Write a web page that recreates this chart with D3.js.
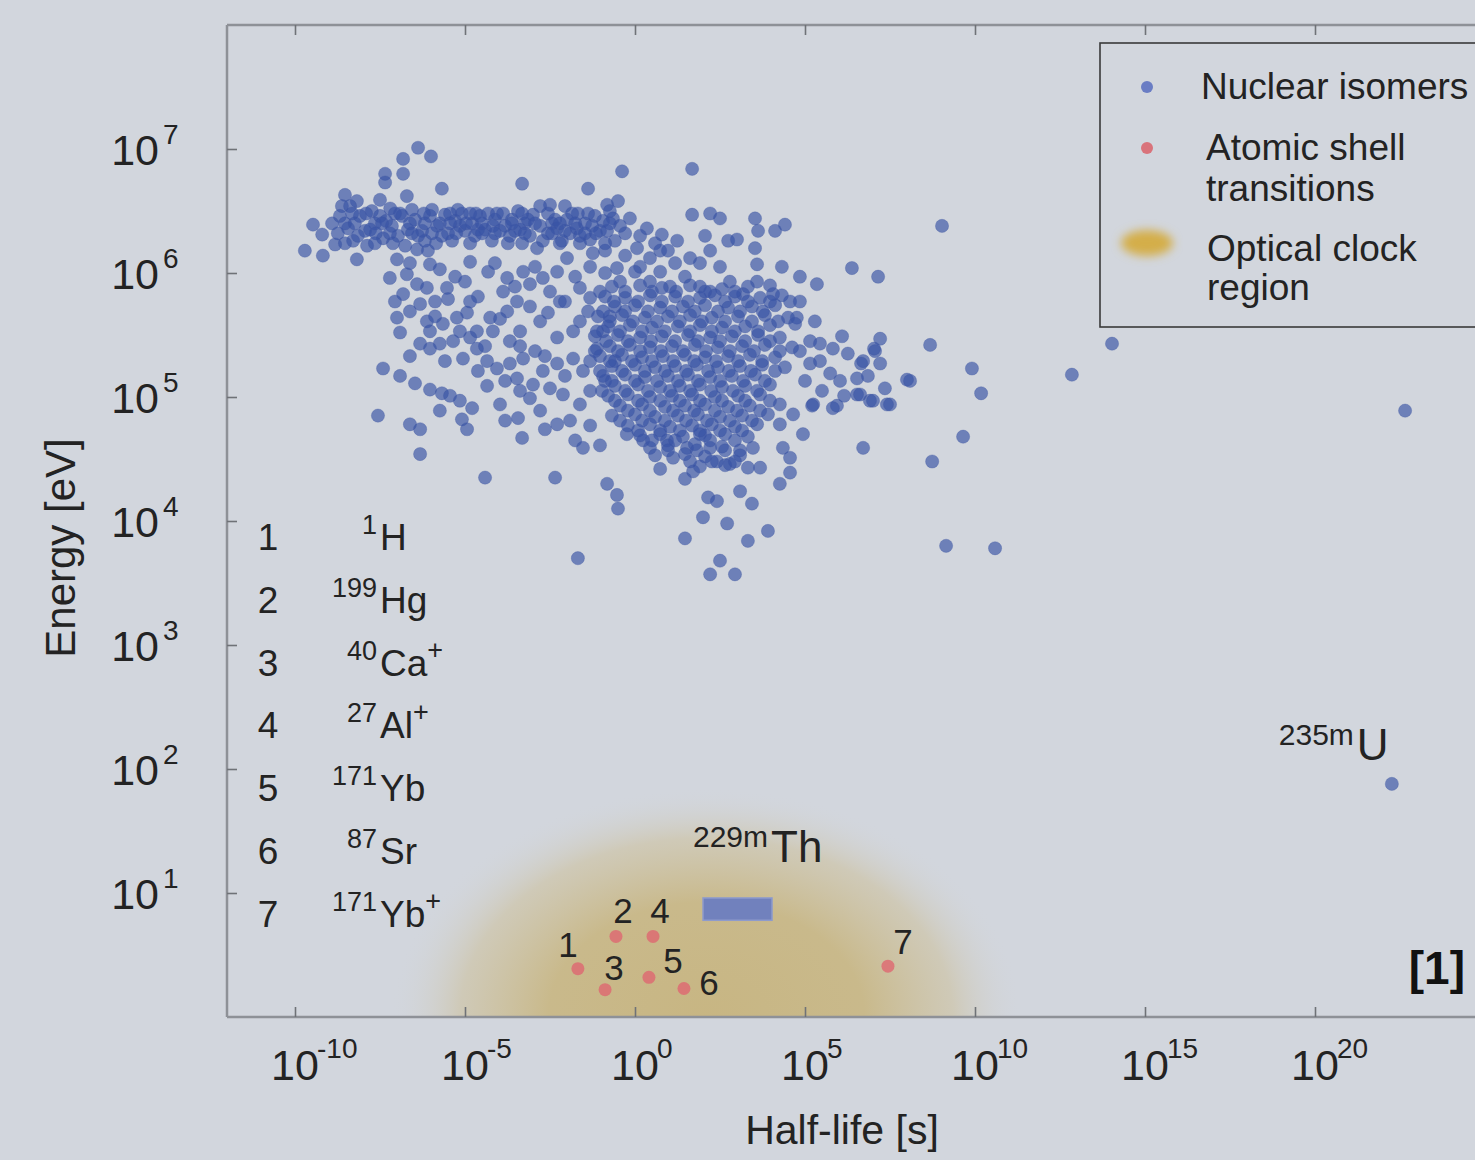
<!DOCTYPE html>
<html><head><meta charset="utf-8">
<script src="https://cdn.jsdelivr.net/npm/d3@7"></script>
<style>
body{margin:0;background:#d2d6dd;}
svg{display:block;font-family:"Liberation Sans",Arial,sans-serif;}
</style></head><body>
<svg id="chart" width="1475" height="1160"></svg>
<script>
// ---------- DATA (log10 exponents: [half-life s, energy eV]) ----------
const xTickExps = [-10, -5, 0, 5, 10, 15, 20, 25];
const xLabelExps = [-10, -5, 0, 5, 10, 15, 20];
const yTickExps = [1, 2, 3, 4, 5, 6, 7];

const isomersTop = [[-6.38,7.01],[-6.82,6.92],[-6.0,6.94],[-7.35,6.8],[-6.82,6.8],[-7.35,6.73],[-5.68,6.68],[-8.53,6.63],[-6.71,6.62],[-3.32,6.72],[-1.38,6.68],[-0.38,6.82],[1.68,6.84],[-7.5,6.59],[-8.18,6.58],[-8.62,6.54],[-0.82,6.55],[-0.5,6.58],[-2.5,6.55],[1.68,6.47],[2.21,6.48],[2.5,6.44],[3.53,6.44],[4.41,6.39],[4.12,6.34],[3.62,6.34],[9.03,6.38]];

const isomersBand = [[-9.47,6.39],[-9.2,6.31],[-9.71,6.18],[-9.18,6.14],[-8.82,6.23],[-8.68,6.46],[-8.44,6.36],[-8.29,6.26],[-8.18,6.11],[-8.09,6.46],[-7.88,6.22],[-7.74,6.5],[-7.65,6.4],[-7.41,6.28],[-7.2,6.52],[-7.15,6.38],[-7.0,6.11],[-6.85,6.46],[-6.76,6.22],[-6.68,6.35],[-6.47,6.43],[-6.41,6.19],[-6.26,6.34],[-6.09,6.18],[-6.03,6.46],[-6.03,6.07],[-5.82,6.38],[-5.59,6.47],[-5.5,6.32],[-5.29,6.42],[-5.09,6.48],[-5.0,6.34],[-4.79,6.4],[-4.56,6.46],[-4.41,6.35],[-4.21,6.26],[-4.12,6.43],[-3.82,6.38],[-3.68,6.3],[-3.44,6.5],[-3.38,6.35],[-3.09,6.3],[-3.0,6.47],[-2.88,6.2],[-2.79,6.38],[-2.71,6.26],[-2.35,6.43],[-2.29,6.36],[-2.0,6.43],[-1.91,6.32],[-1.71,6.36],[-1.47,6.4],[-1.24,6.16],[-1.18,6.46],[-1.03,6.34],[-0.82,6.34],[-0.65,6.44],[-0.44,6.38],[-0.15,6.44],[0.06,6.2],[0.35,6.36],[0.44,6.12],[0.79,6.31],[1.24,6.26],[1.62,6.12],[2.06,6.3],[2.74,6.26],[3.0,6.27],[3.53,6.2],
[-8.38,6.54],[-7.94,6.34],[-7.5,6.46],[-6.97,6.3],[-6.56,6.51],[-6.18,6.26],[-5.74,6.4],[-5.38,6.26],[-5.21,6.51],[-4.71,6.3],[-4.32,6.48],[-3.97,6.34],[-3.62,6.43],[-3.24,6.4],[-2.56,6.32],[-2.15,6.26],[-1.68,6.48],[-1.32,6.27],[-0.94,6.42],[-0.59,6.26],[-0.29,6.32],[0.15,6.3],[0.59,6.24],[0.97,6.18],
[-8.53,6.4],[-8.15,6.3],[-7.79,6.35],[-7.32,6.42],[-7.06,6.48],[-6.38,6.3],[-5.97,6.51],[-5.68,6.3],[-5.15,6.38],[-4.85,6.48],[-4.62,6.35],[-4.18,6.38],[-3.88,6.48],[-3.53,6.34],[-3.15,6.43],[-2.44,6.4],[-2.06,6.34],[-1.62,6.3],[-1.26,6.38],[-0.74,6.5],[-2.06,6.54],[-2.79,6.54],
[-0.88,6.18],[-0.29,6.14],[0.74,6.18],[1.18,6.08],[1.91,6.08],[2.21,6.18],[0.15,6.05],[-0.88,6.0],
[-8.32,6.48],[-7.91,6.48],[-6.91,6.48],[-6.21,6.48],[-5.44,6.48],[-4.68,6.48],[-4.06,6.48],[-3.32,6.48],[-2.56,6.48],[-1.85,6.48],[-1.38,6.48],
[-8.91,6.4],[-8.24,6.4],[-7.44,6.4],[-6.62,6.4],[-6.18,6.4],[-5.44,6.4],[-4.97,6.4],[-4.5,6.4],[-3.62,6.4],[-2.94,6.4],[-2.21,6.4],[-1.76,6.4],[-0.74,6.4],
[-8.74,6.32],[-7.62,6.32],[-7.21,6.32],[-6.56,6.32],[-5.97,6.32],[-5.26,6.32],[-4.5,6.32],[-4.12,6.32],[-3.24,6.32],[-2.44,6.32],[-1.47,6.32],[-1.15,6.32],
[-8.53,6.24],[-7.65,6.24],[-7.12,6.24],[-5.85,6.24],[-4.85,6.24],[-3.74,6.24],[-3.32,6.24],[-2.21,6.24],[-1.62,6.24],[-0.88,6.24]];

const isomersMid = [[-7.21,5.96],[-6.71,5.99],[-6.41,5.91],[-6.12,5.88],[-5.53,5.88],[-5.5,5.79],[-6.82,5.83],[-6.32,5.75],[-4.62,5.81],[-4.32,6.01],[-3.88,5.85],[-3.76,5.96],[-3.47,5.77],[-3.76,5.69],[-3.29,6.01],[-3.09,5.91],[-2.71,5.96],[-2.29,6.01],[-2.0,6.12],[-1.62,5.88],[-1.32,5.8],[-1.03,5.85],[-0.53,6.04],[-0.44,5.93],[0,6.01],[0.44,5.93],[0.74,6.01],[1.03,5.89],[1.47,5.97],[1.91,5.89],[3.59,6.07],[4.32,6.05],[4.85,5.97],[5.35,5.91],[6.38,6.04],[7.15,5.97],[3.59,5.93],[3.18,5.83],[4.06,5.83],[4.56,5.77],[2.5,6.05],[2.21,5.85],[2.79,5.93],[-2.21,5.77],[-4.85,6.09],[-5.29,5.97],[-5.88,5.77],[-7.06,5.77],
[-7.0,5.64],[-6.12,5.61],[-5.65,5.59],[-5.24,5.64],[-4.94,5.68],[-6.91,5.52],[-6.32,5.43],[-6.03,5.39],[-5.74,5.43],[-5.35,5.45],[-5.06,5.31],[-4.65,5.39],[-4.18,5.53],[-4.35,5.29],[-4.06,5.23],[-3.68,5.27],[-3.29,5.31],[-3.47,5.15],[-3.0,5.1],[-2.71,5.21],[-2.29,5.27],[-1.82,5.31],[-1.53,5.21],[-1.12,5.39],[-0.94,5.53],[-1.82,5.53],[-2.29,5.48],[-1.62,5.61],[-4.65,5.53],[-4.26,5.64],[-4.85,5.48],[-7.41,5.23],[-6.47,5.11],[-6.03,5.06],[-5.68,5.03],[-5.44,5.01],[-5.15,4.97],[-4.79,4.91],[-4.35,5.09],[-3.97,4.94],[-3.38,5.05],[-3.09,4.99],[-2.5,5.07],[-2.12,5.02],[-1.62,4.94],[-1.32,5.05],[-3.38,5.53],[-2.79,5.61],[-3.68,5.45],[-2.94,5.37],[-0.74,5.65],[-0.59,5.29],[-0.88,5.13],
[-6.62,6.08],[-5.74,6.03],[-5.0,5.93],[-4.12,6.08],[-3.53,5.89],[-2.94,6.05],[-2.5,5.85],[-1.76,5.97],[-1.32,6.05],[-6.62,5.69],[-5.88,5.65],[-4.85,5.77],[-3.97,5.63],[-3.09,5.73],[-2.56,5.68],[-2.06,5.77],[-1.38,5.69],[-6.62,5.33],[-5.59,5.29],[-4.62,5.21],[-3.82,5.13],[-2.65,5.33],[-2.06,5.17],[-1.32,5.29],[-3.38,5.41],[-4.41,5.41],[-5.15,5.53],[-6.03,5.53],[-6.91,5.17],[-5.74,4.89],[-3.82,4.81],[-2.79,4.89],[-1.91,4.81],[-1.32,4.77],[-1.76,4.65]];

const isomersLow = [[-7.56,4.85],[-6.62,4.78],[-6.32,4.74],[-6.32,4.54],[-5.09,4.82],[-4.94,4.74],[-4.41,4.35],[-3.44,4.83],[-3.32,4.67],[-2.65,4.74],[-2.29,4.78],[-1.53,4.59],[-1.03,4.61],[-2.35,4.35],[-0.82,4.3],[-0.53,4.21],[-0.5,4.1],[-1.68,3.7],[-0.24,4.7],[0.24,4.65],
[0.74,4.42],[1.47,4.34],[1.71,4.4],[2.0,4.03],[2.15,4.19],[2.41,4.16],[2.71,3.98],[3.09,4.24],[3.44,4.14],[3.91,3.92],[3.32,3.84],[1.47,3.86],[2.5,3.68],[2.21,3.57],[2.94,3.57],[4.26,4.3],[4.56,4.39],[0.44,4.59],[0.94,4.65],[1.12,4.51],[1.53,4.59],[1.91,4.7],[2.21,4.59],[2.41,4.48],[2.79,4.46],[3.09,4.57],[3.47,4.59],[3.68,4.43],[3.59,4.78],[4.26,4.78],[4.65,4.86],[4.35,4.59],[4.56,4.51],[4.94,4.7],[4.26,4.94]];

const isomersCore = [
[-0.68,5.89],[0.15,5.9],[0.79,5.88],[1.62,5.9],[2.56,5.87],[3.32,5.89],[3.97,5.9],
[-0.88,5.81],[-0.29,5.8],[0.44,5.82],[1.18,5.81],[1.91,5.8],[2.35,5.82],[2.94,5.81],[3.68,5.8],[4.32,5.82],
[-0.59,5.73],[0,5.74],[0.74,5.72],[1.41,5.73],[2.06,5.74],[2.74,5.72],[3.44,5.73],[4.12,5.74],
[-1.09,5.65],[-0.38,5.66],[0.29,5.64],[0.97,5.65],[1.62,5.66],[2.26,5.64],[3.03,5.65],[3.82,5.66],[4.5,5.64],
[-0.79,5.57],[-0.15,5.58],[0.5,5.56],[1.26,5.57],[1.91,5.58],[2.56,5.56],[3.24,5.57],[3.97,5.58],
[-1.18,5.49],[-0.5,5.5],[0.15,5.48],[0.79,5.49],[1.56,5.5],[2.21,5.48],[2.85,5.49],[3.62,5.5],[4.26,5.48],
[-0.74,5.41],[-0.15,5.42],[0.44,5.4],[1.09,5.41],[1.76,5.42],[2.44,5.4],[3.15,5.41],[3.82,5.42],[4.62,5.4],
[-1.03,5.33],[-0.38,5.34],[0.21,5.32],[0.82,5.33],[1.47,5.34],[2.06,5.32],[2.74,5.33],[3.38,5.34],[4.12,5.32],
[-0.68,5.25],[0,5.26],[0.59,5.24],[1.18,5.25],[1.82,5.26],[2.44,5.24],[3.09,5.25],[3.74,5.26],[4.41,5.24],
[-0.94,5.17],[-0.29,5.18],[0.29,5.16],[0.97,5.17],[1.56,5.18],[2.21,5.16],[2.85,5.17],[3.53,5.18],
[-0.59,5.09],[0.09,5.1],[0.74,5.08],[1.32,5.09],[1.91,5.1],[2.56,5.08],[3.24,5.09],[3.97,5.1],
[-0.79,5.01],[-0.21,5.02],[0.44,5.0],[1.09,5.01],[1.68,5.02],[2.35,5.0],[3.03,5.01],[3.68,5.02],
[-0.44,4.93],[0.21,4.94],[0.88,4.92],[1.47,4.93],[2.06,4.94],[2.74,4.92],[3.38,4.93],
[-0.68,4.85],[0,4.86],[0.59,4.84],[1.26,4.85],[1.85,4.86],[2.5,4.84],[3.15,4.85],[3.91,4.86],
[-0.21,4.77],[0.44,4.78],[1.03,4.76],[1.68,4.77],[2.26,4.78],[2.94,4.76],
[0.15,4.69],[0.74,4.7],[1.41,4.68],[2.06,4.69],[2.65,4.7],[3.32,4.68],
[0.97,4.61],[1.76,4.62],[2.56,4.6],
[0.59,4.53],[1.47,4.54],[2.06,4.52],[3.09,4.53],
[1.91,4.44],[2.65,4.45],[3.32,4.43],
[-0.29,5.85],[0.5,5.85],[1.21,5.85],[2.06,5.85],[2.94,5.85],
[-0.62,5.77],[0.09,5.77],[0.79,5.77],[1.56,5.77],[2.65,5.77],[3.32,5.77],[3.97,5.77],
[-0.94,5.69],[-0.29,5.69],[0.38,5.69],[1.09,5.69],[1.76,5.69],[2.44,5.69],[3.09,5.69],[3.76,5.69],
[-0.74,5.61],[-0.06,5.61],[0.65,5.61],[1.32,5.61],[1.97,5.61],[2.65,5.61],[3.44,5.61],[4.21,5.61],
[-1.12,5.53],[-0.44,5.53],[0.21,5.53],[0.88,5.53],[1.62,5.53],[2.26,5.53],[2.94,5.53],[3.62,5.53],
[-0.85,5.45],[-0.21,5.45],[0.47,5.45],[1.18,5.45],[1.85,5.45],[2.5,5.45],[3.24,5.45],[3.97,5.45],
[-1.18,5.37],[-0.5,5.37],[0.15,5.37],[0.76,5.37],[1.41,5.37],[2.09,5.37],[2.79,5.37],[3.5,5.37],[4.26,5.37],
[-0.74,5.29],[-0.09,5.29],[0.5,5.29],[1.12,5.29],[1.74,5.29],[2.38,5.29],[3.03,5.29],[3.74,5.29],
[-1.03,5.21],[-0.38,5.21],[0.29,5.21],[0.88,5.21],[1.5,5.21],[2.15,5.21],[2.76,5.21],[3.41,5.21],[4.12,5.21],
[-0.68,5.13],[0,5.13],[0.65,5.13],[1.26,5.13],[1.85,5.13],[2.5,5.13],[3.18,5.13],[3.82,5.13],
[-0.97,5.05],[-0.29,5.05],[0.38,5.05],[1.03,5.05],[1.62,5.05],[2.24,5.05],[2.88,5.05],[3.59,5.05],
[-0.59,4.97],[0.09,4.97],[0.74,4.97],[1.32,4.97],[1.91,4.97],[2.56,4.97],[3.24,4.97],[3.97,4.97],
[-0.21,4.89],[0.44,4.89],[1.12,4.89],[1.74,4.89],[2.35,4.89],[3.0,4.89],[3.68,4.89],
[-0.44,4.81],[0.21,4.81],[0.88,4.81],[1.5,4.81],[2.12,4.81],[2.79,4.81],[3.44,4.81],
[0.09,4.73],[0.74,4.73],[1.32,4.73],[1.91,4.73],[2.5,4.73],[3.15,4.73],
[0.5,4.65],[1.18,4.65],[2.21,4.65],[2.94,4.65],
[0.97,4.57],[1.82,4.57],[2.65,4.57],
[1.62,4.48],[2.26,4.48],[2.94,4.48]];

const isomersRight = [[5.15,5.45],[5.44,5.43],[5.82,5.39],[6.09,5.49],[7.21,5.47],[7.06,5.37],[5.15,5.27],[5.74,5.19],[6.03,5.13],[6.71,5.29],[7.21,5.27],[6.91,4.97],[7.5,4.94],[5.24,4.94],[5.82,4.91],[8.0,5.14],[4.76,5.64],[4.71,5.59],[7.03,5.39],[6.65,5.27],[6.53,5.15],[6.53,5.02],[6.71,4.59],[5.21,4.93],[5.94,4.93],[7.35,5.07],[7.41,4.94],[8.09,5.13],[6.62,5.02],[7.0,4.97],
[4.85,5.37],[5.44,5.29],[6.26,5.35],[6.15,5.01],[5.5,5.05],[5.0,5.13],[6.85,5.17],[4.85,5.77],[5.29,5.61],
[8.68,5.42],[9.91,5.23],[10.18,5.03],[9.65,4.68],[8.74,4.48],[9.15,3.8],[10.59,3.78],[12.85,5.18],[14.03,5.43],[22.65,4.89]];

const uranium235m = [22.26, 1.88];

// atomic clock transitions: id, half-life exponent, energy exponent
const clockIds = [1, 2, 3, 4, 5, 6, 7];
const clockT = [-1.68, -0.56, -0.88, 0.53, 0.41, 1.44, 7.44];
const clockE = [0.39, 0.65, 0.22, 0.65, 0.32, 0.23, 0.41];
const clockSpecies = [["1","H",""],["199","Hg",""],["40","Ca","+"],["27","Al","+"],["171","Yb",""],["87","Sr",""],["171","Yb","+"]];

const thoriumBox = {t0: 2.0, t1: 4.03, e0: 0.78, e1: 0.96};
const opticalRegion = {tCenter: 2.1, tHalf: 9.3, eTop: 1.85};

// ---------- DRAWING ----------
const svg = d3.select("#chart");
const W = 1475, H = 1160;
const P = 10;
const x = d3.scaleLog().domain([1e-12, 1e25]).range([227, 1485]);
const y = d3.scaleLog().domain([1, 1e8]).range([1017, 25]);
const X = e => x(Math.pow(P, e));
const Y = e => y(Math.pow(P, e));

svg.append("rect").attr("width", W).attr("height", H).attr("fill", "#d2d6dd");

const defs = svg.append("defs");
const rg = defs.append("radialGradient").attr("id", "gold");
rg.append("stop").attr("offset", "0").attr("stop-color", "#c7b47e").attr("stop-opacity", 0.95);
rg.append("stop").attr("offset", "0.5").attr("stop-color", "#c8b682").attr("stop-opacity", 0.9);
rg.append("stop").attr("offset", "0.78").attr("stop-color", "#ccbd92").attr("stop-opacity", 0.5);
rg.append("stop").attr("offset", "1").attr("stop-color", "#d2d6dd").attr("stop-opacity", 0);
defs.append("clipPath").attr("id", "plotclip").append("rect")
  .attr("x", 227).attr("y", 25).attr("width", 1485 - 227).attr("height", 1017 - 25);
const blur = defs.append("filter").attr("id", "blur").attr("x", "-50%").attr("y", "-50%").attr("width", "200%").attr("height", "200%");
blur.append("feGaussianBlur").attr("stdDeviation", 5);

// optical clock region
const cx = X(opticalRegion.tCenter);
const rx = X(opticalRegion.tCenter + opticalRegion.tHalf) - cx;
const ry = Y(0) - Y(opticalRegion.eTop);
svg.append("g").attr("clip-path", "url(#plotclip)")
  .append("ellipse").attr("cx", cx).attr("cy", Y(0)).attr("rx", rx).attr("ry", ry)
  .attr("fill", "url(#gold)");

// frame
const frame = svg.append("g").attr("stroke", "#8e9197").attr("stroke-width", 2.5).attr("fill", "none");
frame.append("line").attr("x1", 227).attr("x2", 1485).attr("y1", 1017).attr("y2", 1017);
frame.append("line").attr("x1", 227).attr("x2", 1485).attr("y1", 25).attr("y2", 25);
frame.append("line").attr("x1", 227).attr("x2", 227).attr("y1", 25).attr("y2", 1017);
frame.append("line").attr("x1", 1485).attr("x2", 1485).attr("y1", 25).attr("y2", 1017);

// ticks via d3 axes
const xb = d3.axisBottom(x).tickValues(xTickExps.map(e => Math.pow(P, e))).tickSizeInner(-10).tickSizeOuter(0).tickFormat("");
const xt = d3.axisTop(x).tickValues(xTickExps.map(e => Math.pow(P, e))).tickSizeInner(-10).tickSizeOuter(0).tickFormat("");
const yl = d3.axisLeft(y).tickValues(yTickExps.map(e => Math.pow(P, e))).tickSizeInner(-10).tickSizeOuter(0).tickFormat("");
const yr = d3.axisRight(y).tickValues(yTickExps.map(e => Math.pow(P, e))).tickSizeInner(-10).tickSizeOuter(0).tickFormat("");
[[xb, "translate(0,1017)"], [xt, "translate(0,25)"], [yl, "translate(227,0)"], [yr, "translate(1485,0)"]].forEach(([ax, tr]) => {
  const g = svg.append("g").attr("transform", tr).call(ax);
  g.select(".domain").remove();
  g.selectAll(".tick line").attr("stroke", "#6f7277").attr("stroke-width", 1.6);
});

// tick labels
const txtColor = "#232323";
const xl = svg.append("g").attr("fill", txtColor);
xLabelExps.forEach(e => {
  const px = X(e);
  xl.append("text").attr("x", px).attr("y", 1080).attr("text-anchor", "middle").attr("font-size", 43).text("10");
  xl.append("text").attr("x", px + 22).attr("y", 1058).attr("font-size", 28).text(e);
});
const ylab = svg.append("g").attr("fill", txtColor);
yTickExps.forEach(e => {
  const py = Y(e);
  ylab.append("text").attr("x", 159).attr("y", py + 16).attr("text-anchor", "end").attr("font-size", 43).text("10");
  ylab.append("text").attr("x", 163).attr("y", py - 5).attr("font-size", 28).text(e);
});

// axis titles
svg.append("text").attr("transform", "translate(75,548) rotate(-90)").attr("text-anchor", "middle")
  .attr("font-size", 42).attr("fill", txtColor).text("Energy [eV]");
svg.append("text").attr("x", 842).attr("y", 1144).attr("text-anchor", "middle")
  .attr("font-size", 41).attr("fill", txtColor).text("Half-life [s]");

// isomers
const isomers = [].concat(isomersTop, isomersBand, isomersMid, isomersLow, isomersCore, isomersRight, [uranium235m]);
svg.append("g").selectAll("circle").data(isomers).join("circle")
  .attr("cx", d => X(d[0])).attr("cy", d => Y(d[1])).attr("r", 6.6)
  .attr("fill", "#3853a6").attr("fill-opacity", 0.66)
  .attr("stroke", "#3a52a0").attr("stroke-opacity", 0.3).attr("stroke-width", 1);

// thorium box
svg.append("rect").attr("x", X(thoriumBox.t0)).attr("y", Y(thoriumBox.e1))
  .attr("width", X(thoriumBox.t1) - X(thoriumBox.t0)).attr("height", Y(thoriumBox.e0) - Y(thoriumBox.e1))
  .attr("fill", "#7181bd").attr("stroke", "#8e9bcc").attr("stroke-width", 1.5);

// clock transitions
const clockData = clockIds.map((id, i) => ({id, t: clockT[i], e: clockE[i]}));
svg.append("g").selectAll("circle").data(clockData).join("circle")
  .attr("cx", d => X(d.t)).attr("cy", d => Y(d.e)).attr("r", 6.5)
  .attr("fill", "#de6670").attr("fill-opacity", 0.8);
const labelOff = {1: [-10, -12], 2: [7, -13], 3: [9, -10], 4: [7, -13], 5: [24, -4], 6: [25, 7], 7: [15, -12]};
svg.append("g").attr("fill", txtColor).attr("font-size", 35).attr("text-anchor", "middle")
  .selectAll("text").data(clockData).join("text")
  .attr("x", d => X(d.t) + labelOff[d.id][0]).attr("y", d => Y(d.e) + labelOff[d.id][1])
  .text(d => d.id);

// numbered species list
const list = svg.append("g").attr("fill", txtColor);
clockSpecies.forEach((s, i) => {
  const by = 550 + i * 62.8;
  list.append("text").attr("x", 268).attr("y", by).attr("text-anchor", "middle").attr("font-size", 37).text(clockIds[i]);
  list.append("text").attr("x", 377).attr("y", by - 16).attr("text-anchor", "end").attr("font-size", 27).text(s[0]);
  const t = list.append("text").attr("x", 380).attr("y", by).attr("font-size", 37).text(s[1]);
  if (s[2]) t.append("tspan").attr("dy", -17).attr("font-size", 27).text(s[2]);
});

// isotope labels
function isoLabel(xEnd, base, sup, main) {
  svg.append("text").attr("x", xEnd).attr("y", base - 15).attr("text-anchor", "end")
    .attr("font-size", 30).attr("fill", txtColor).text(sup);
  svg.append("text").attr("x", xEnd + 3).attr("y", base).attr("font-size", 44).attr("fill", txtColor).text(main);
}
isoLabel(X(thoriumBox.t1) - 4, 862, "229m", "Th");
isoLabel(X(uranium235m[0]) - 38, 760, "235m", "U");

// legend
const lg = svg.append("g");
lg.append("rect").attr("x", 1100).attr("y", 43).attr("width", 420).attr("height", 284)
  .attr("fill", "#d2d6dd").attr("stroke", "#3a3a3a").attr("stroke-width", 1.6);
lg.append("circle").attr("cx", 1147).attr("cy", 87).attr("r", 6).attr("fill", "#6a7dc4");
lg.append("circle").attr("cx", 1147).attr("cy", 148).attr("r", 6).attr("fill", "#d9737b");
lg.append("ellipse").attr("cx", 1147).attr("cy", 243).attr("rx", 26).attr("ry", 13)
  .attr("fill", "#d4ae48").attr("filter", "url(#blur)");
const legendText = [["Nuclear isomers", 1201, 99], ["Atomic shell", 1206, 160], ["transitions", 1206, 201],
  ["Optical clock", 1207, 261], ["region", 1207, 300]];
lg.selectAll("text.lt").data(legendText).join("text").attr("class", "lt")
  .attr("x", d => d[1]).attr("y", d => d[2]).attr("font-size", 37).attr("fill", txtColor).text(d => d[0]);

// reference tag
svg.append("text").attr("x", 1465).attr("y", 984).attr("text-anchor", "end").attr("font-size", 46)
  .attr("font-weight", "bold").attr("fill", "#111").text("[1]");
</script>
</body></html>
